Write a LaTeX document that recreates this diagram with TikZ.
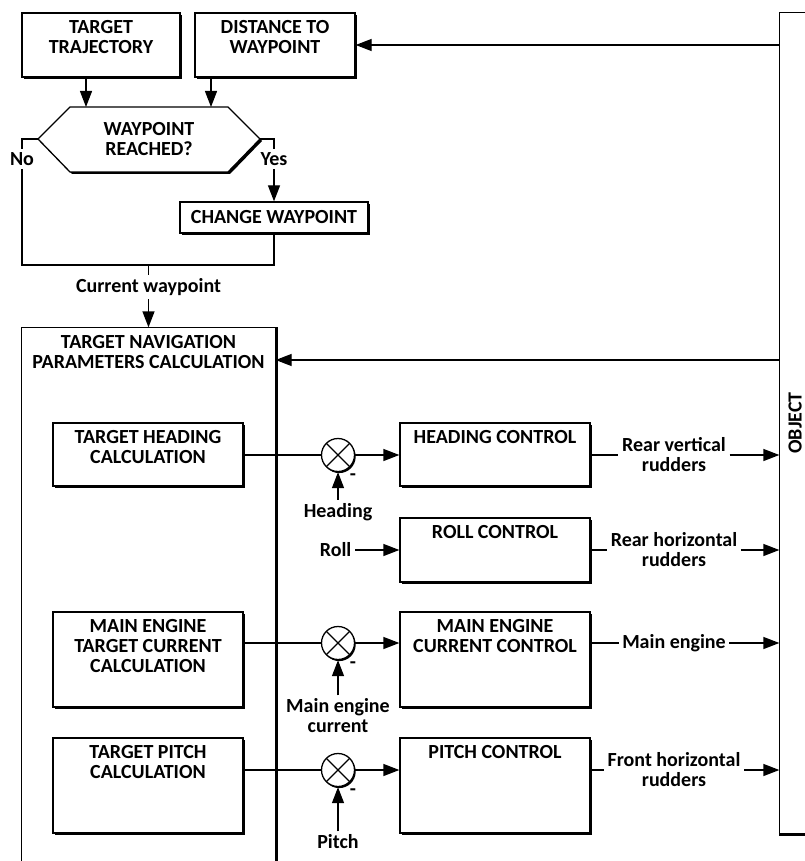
\documentclass[tikz,border=0pt]{standalone}
\usepackage{fontspec}
\setmainfont{Carlito}
\usetikzlibrary{arrows.meta, positioning, calc, fit, shadows}

\tikzset{
  arr/.style={-{Triangle[length=8pt,width=6pt]}},
  blk/.style={draw, fill=white, inner sep=0pt, line width=0.65pt,
    general shadow={fill=black, shadow xshift=1pt, shadow yshift=-1pt}},
  txt/.style={inner sep=1.5pt, align=center},
  sumj/.style={circle, draw, fill=white, inner sep=0pt, minimum size=16.5pt, line width=0.65pt,
    general shadow={fill=black, shadow xshift=0.6pt, shadow yshift=-0.8pt},
    path picture={\draw (path picture bounding box.north west) -- (path picture bounding box.south east)
      (path picture bounding box.south west) -- (path picture bounding box.north east);}}
}

\begin{document}
\begin{tikzpicture}[x=0.5pt, y=-0.5pt, line width=0.65pt, font=\bfseries\fontsize{10}{10}\selectfont]
  \useasboundingbox (0,0) rectangle (804,861);

  % waypoint selection
  \node[blk, fit={(22,13) (180,77)}] (tt) {};
  \node[txt, anchor=north] (ttT) at ([yshift=-2.3pt]tt.north) {TARGET\\TRAJECTORY};
  \node[blk, fit={(195,13) (355,77)}] (dist) {};
  \node[txt, anchor=north] (distT) at ([yshift=-2.3pt]dist.north) {DISTANCE TO\\WAYPOINT};

  \coordinate (hexN) at (149,107);
  \coordinate (hexW) at (38,139);
  \coordinate (hexE) at (260,139);
  \filldraw[fill=white, general shadow={fill=black, shadow xshift=1pt, shadow yshift=-1pt}]
    (hexW) -- (70,107) -- (228,107) -- (hexE) -- (228,172) -- (70,172) -- cycle;
  \node[txt] (reached) at (149,139) {WAYPOINT\\REACHED?};

  \draw[arr] (tt.south -| 86,0) -- (86,0 |- hexN);
  \draw[arr] (dist.south -| 211,0) -- (211,0 |- hexN);

  \node[blk, fit={(180,202) (368,233)}] (chg) {};
  \node[txt] (chgT) at (chg.center) {CHANGE WAYPOINT};

  \node[txt] (no) at (22,159) {No};
  \node[txt] (yes) at (274,159) {Yes};
  \coordinate (merge) at (148.5,265);
  \draw (hexW) -| (no.north);
  \draw (hexE) -| (yes.north);
  \draw[arr] (yes.south) -- (chg.north);
  \draw (no.south) |- (merge) -| (chg.south);

  \node[txt] (cw) at (148.5,287) {Current waypoint};
  \draw (merge) -- (cw.north);

  % navigation parameters block (open at the bottom)
  \node[fit={(22,328) (275,861)}, inner sep=0pt] (nav) {};
  \draw (nav.south west) |- (nav.north east) -- (nav.south east);
  \draw[line width=1.3pt] ([xshift=0.4pt]nav.north east) -- ([xshift=0.4pt]nav.south east);
  \node[txt, anchor=north] (navT) at ([yshift=-2.3pt]nav.north) {TARGET NAVIGATION\\PARAMETERS CALCULATION};
  \draw[arr] (cw.south) -- (nav.north);

  \node[blk, fit={(53,423) (243,486)}] (thc) {};
  \node[txt, anchor=north] (thcT) at ([yshift=-2.3pt]thc.north) {TARGET HEADING\\CALCULATION};
  \node[blk, fit={(53,612) (243,707)}] (mec) {};
  \node[txt, anchor=north] (mecT) at ([yshift=-2.3pt]mec.north) {MAIN ENGINE\\TARGET CURRENT\\CALCULATION};
  \node[blk, fit={(53,738) (243,833)}] (tpc) {};
  \node[txt, anchor=north] (tpcT) at ([yshift=-2.3pt]tpc.north) {TARGET PITCH\\CALCULATION};

  % object
  \node[fit={(780,13) (804,833)}, inner sep=0pt] (obj) {};
  \draw[line width=0.8pt] (obj.north east) -| (obj.south west) -- (obj.south east);
  \draw[line width=1.3pt] ([yshift=-0.4pt]obj.south west) -- ([yshift=-0.4pt]obj.south east);
  \node[txt, rotate=90] (objT) at (795,423) {OBJECT};

  \draw[arr] (dist.east -| obj.west) -- (dist.east);
  \draw[arr] (obj.west |- 0,360) -- (nav.east |- 0,360);

  % controllers
  \node[blk, fit={(400,423) (590,486)}] (hdg) {};
  \node[txt, anchor=north] (hdgT) at ([yshift=-2.3pt]hdg.north) {HEADING CONTROL};
  \node[blk, fit={(400,518) (590,582)}] (rol) {};
  \node[txt, anchor=north] (rolT) at ([yshift=-2.3pt]rol.north) {ROLL CONTROL};
  \node[blk, fit={(400,612) (590,707)}] (mcc) {};
  \node[txt, anchor=north] (mccT) at ([yshift=-2.3pt]mcc.north) {MAIN ENGINE\\CURRENT CONTROL};
  \node[blk, fit={(400,738) (590,833)}] (pit) {};
  \node[txt, anchor=north] (pitT) at ([yshift=-2.3pt]pit.north) {PITCH CONTROL};

  % comparators
  \node[sumj] (s1) at (338,455) {};
  \node[sumj] (s2) at (338,643) {};
  \node[sumj] (s3) at (338,770) {};
  \foreach \s in {s1, s2, s3} {
    \node[inner sep=0pt] (\s m) at ([xshift=7.5pt, yshift=-11pt]\s.center) {-};
  }

  \draw (s1 -| thc.east) -- (s1.west);
  \draw (s2 -| mec.east) -- (s2.west);
  \draw (s3 -| tpc.east) -- (s3.west);
  \draw[arr] (s1.east) -- (s1 -| hdg.west);
  \draw[arr] (s2.east) -- (s2 -| mcc.west);
  \draw[arr] (s3.east) -- (s3 -| pit.west);

  \node[txt] (hd) at (338,512) {Heading};
  \node[txt] (mc) at (338,716) {Main engine\\current};
  \node[txt] (pt) at (338,842) {Pitch};
  \draw[arr] (hd.north) -- (s1.south);
  \draw[arr] (mc.north) -- (s2.south);
  \draw[arr] (pt.north) -- (s3.south);

  \node[txt, anchor=east] (roll) at (355,550) {Roll};
  \draw[arr] (roll.east) -- (roll.east -| rol.west);

  % actuators
  \node[txt] (rvr) at (674,455) {Rear vertical\\rudders};
  \node[txt] (rhr) at (674,550) {Rear horizontal\\rudders};
  \node[txt] (men) at (674,643) {Main engine};
  \node[txt] (fhr) at (674,770) {Front horizontal\\rudders};
  \foreach \a/\b in {hdg/rvr, rol/rhr, mcc/men, pit/fhr} {
    \draw (\b -| \a.east) -- (\b.west);
    \draw[arr] (\b.east) -- (\b -| obj.west);
  }
\end{tikzpicture}
\end{document}
